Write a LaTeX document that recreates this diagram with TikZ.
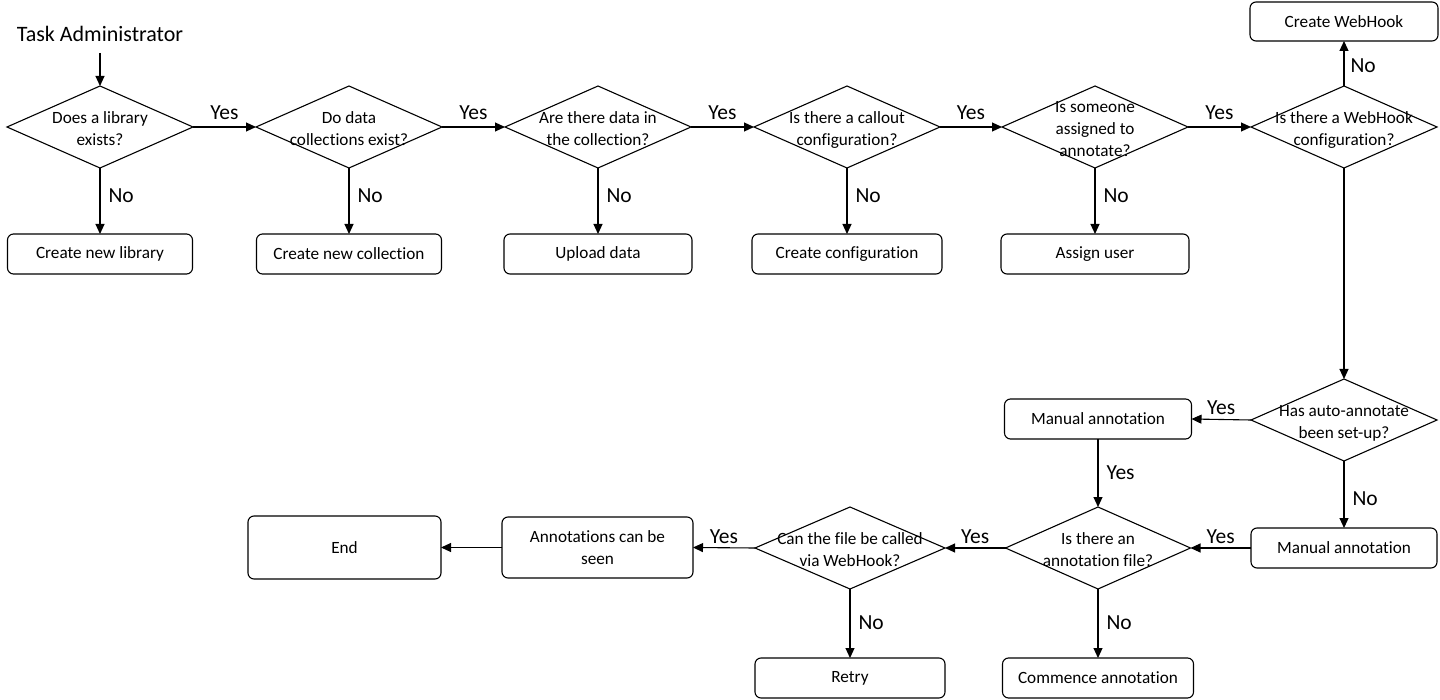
\documentclass[tikz,border=0pt]{standalone}
\usepackage{fontspec}
\setmainfont{Carlito}[Ligatures={NoCommon,NoRequired,NoContextual}]
\usetikzlibrary{shapes.geometric,arrows.meta}
\newcommand{\dtxt}[1]{\makebox[0pt]{\smash{\raisebox{-0.42em}{\begin{tabular}{@{}c@{}}#1\end{tabular}}}}}
\tikzset{
  box/.style={draw, rounded corners=6pt, line width=1.1pt, inner sep=0pt, outer sep=0pt,
    minimum width=187pt, minimum height=40pt, align=center,
    font=\fontsize{17.2}{22}\selectfont},
  dia/.style={draw, diamond, line width=1.1pt, inner sep=0pt, outer sep=0pt,
    minimum width=186pt, minimum height=82pt,
    font=\fontsize{17.2}{22}\selectfont},
  arr/.style={line width=1.1pt, -{Triangle[length=10pt,width=9pt]}},
  lab/.style={font=\fontsize{21.5}{24}\selectfont, inner sep=2pt},
}
\begin{document}
\begin{tikzpicture}[x=1pt,y=-1pt]
\useasboundingbox[fill=white] (0,0) rectangle (1440,700);

\node[font=\fontsize{22}{26}\selectfont, inner sep=0pt] (ta) at (100,34) {Task Administrator};
\coordinate (tas) at (100,53);

% top row diamonds
\node[dia] (d1) at (100,127) {\dtxt{Does a library\\exists?}};
\node[dia] (d2) at (349,127) {\dtxt{Do data\\collections exist?}};
\node[dia] (d3) at (598,127) {\dtxt{Are there data in\\the collection?}};
\node[dia] (d4) at (847,127) {\dtxt{Is there a callout\\configuration?}};
\node[dia] (d5) at (1095,127) {\dtxt{Is someone\\assigned to\\annotate?}};
\node[dia] (d6) at (1344,127) {\dtxt{Is there a WebHook\\configuration?}};

% top row boxes
\node[box, minimum width=185pt] (lib) at (100,254) {Create new library};
\node[box, minimum width=185pt] (col) at (349,254) {Create new collection};
\node[box, minimum width=188pt] (upl) at (598,254) {Upload data};
\node[box, minimum width=190pt] (cfg) at (847,254) {Create configuration};
\node[box, minimum width=188pt] (asg) at (1095,254) {Assign user};
\node[box, minimum width=188pt, minimum height=39pt] (wh) at (1344,21.5) {Create WebHook};

% lower part
\node[dia] (d7) at (1344,420) {\dtxt{Has auto-annotate\\been set-up?}};
\node[box] (man1) at (1098,419) {Manual annotation};
\node[box, minimum width=186pt] (man2) at (1344,548) {Manual annotation};
\node[dia, minimum width=185pt] (d8) at (1098,548) {\dtxt{Is there an\\annotation file?}};
\node[box, minimum width=191pt] (com) at (1098,678) {Commence annotation};
\node[dia, minimum width=190pt] (d9) at (850,548) {\dtxt{Can the file be called\\via WebHook?}};
\node[box, minimum width=190pt] (ret) at (850,678) {Retry};
\node[box, minimum width=191pt, minimum height=61pt] (ann) at (597.5,547.5) {Annotations can be\\seen};
\node[box, minimum width=193pt, minimum height=63pt] (end) at (344.5,547.5) {End};

% connectors
\draw[arr] (tas) -- (d1.north);
\draw[arr] (d1.east) -- node[lab, above=5pt] (y1) {Yes} (d2.west);
\draw[arr] (d2.east) -- node[lab, above=5pt] (y2) {Yes} (d3.west);
\draw[arr] (d3.east) -- node[lab, above=5pt] (y3) {Yes} (d4.west);
\draw[arr] (d4.east) -- node[lab, above=5pt] (y4) {Yes} (d5.west);
\draw[arr] (d5.east) -- node[lab, above=5pt] (y5) {Yes} (d6.west);

\draw[arr] (d1.south) -- node[lab, right=6pt, yshift=5pt] (n1) {No} (lib.north);
\draw[arr] (d2.south) -- node[lab, right=6pt, yshift=5pt] (n2) {No} (col.north);
\draw[arr] (d3.south) -- node[lab, right=6pt, yshift=5pt] (n3) {No} (upl.north);
\draw[arr] (d4.south) -- node[lab, right=6pt, yshift=5pt] (n4) {No} (cfg.north);
\draw[arr] (d5.south) -- node[lab, right=6pt, yshift=5pt] (n5) {No} (asg.north);
\draw[arr] (d6.north) -- node[lab, right=4pt, yshift=-2pt] (n6) {No} (wh.south);

\draw[arr] (d6.south) -- (d7.north);
\draw[arr] (d7.west) -- node[lab, above=2pt] (y7) {Yes} (man1.east);
\draw[arr] (d7.south) -- node[lab, right=6pt, yshift=-4pt] (n7) {No} (man2.north);
\draw[arr] (man1.south) -- node[lab, right=6pt, yshift=0pt] (y8) {Yes} (d8.north);
\draw[arr] (man2.west) -- node[lab, above=2pt] (y9) {Yes} (d8.east);
\draw[arr] (d8.west) -- node[lab, above=2pt] (y10) {Yes} (d9.east);
\draw[arr] (d8.south) -- node[lab, right=6pt, yshift=1pt] (n8) {No} (com.north);
\draw[arr] (d9.west) -- node[lab, above=2pt] (y11) {Yes} (ann.east);
\draw[arr] (d9.south) -- node[lab, right=6pt, yshift=1pt] (n9) {No} (ret.north);
\draw[arr] (ann.west) -- (end.east);
\end{tikzpicture}
\end{document}
